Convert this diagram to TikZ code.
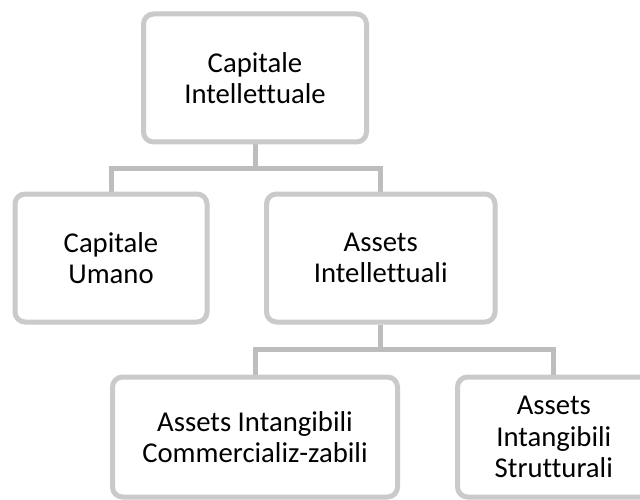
\documentclass[tikz,border=0pt]{standalone}
\usepackage{fontspec}
\setmainfont{Carlito}[Ligatures={NoCommon}]
\usetikzlibrary{backgrounds}

\tikzset{
  orgbox/.style={draw=boxgray, line width=5pt, fill=white, rounded corners=10pt,
    inner sep=0pt, align=center, font=\fontsize{28.7}{31.5}\selectfont},
  orglink/.style={draw=linkgray, line width=5pt},
}
\definecolor{boxgray}{HTML}{CACACA}
\definecolor{linkgray}{HTML}{BDBDBD}

\begin{document}
\begin{tikzpicture}[x=1pt,y=1pt]
  \useasboundingbox (0,0) rectangle (640,499);
  \clip (0,0) rectangle (640,499);

  % boxes of the hierarchy
  \node[orgbox, minimum width=223pt, minimum height=128pt] (ci) at (255,421)
    {Capitale\\Intellettuale};
  \node[orgbox, minimum width=192pt, minimum height=128pt] (cu) at (111,241)
    {Capitale\\Umano};
  \node[orgbox, minimum width=228.5pt, minimum height=128pt] (ai) at (380.75,241)
    {Assets\\Intellettuali};
  \node[orgbox, minimum width=285pt, minimum height=120pt] (aic) at (255,62)
    {Assets Intangibili\\Commercializ-zabili};
  \node[orgbox, minimum width=192.6pt, minimum height=120pt] (ais) at (553.8,62)
    {Assets\\Intangibili\\Strutturali};

  % junction points of the connectors
  \coordinate (bus1) at (255,330);
  \coordinate (bus2) at (380.75,150);

  \begin{scope}[on background layer]
    \draw[orglink] (ci.south) -- (bus1);
    \draw[orglink] (cu.north) |- (bus1) -| (ai.north);
    \draw[orglink] (ai.south) -- (bus2);
    \draw[orglink] (aic.north) |- (bus2) -| (ais.north);
  \end{scope}
\end{tikzpicture}
\end{document}
